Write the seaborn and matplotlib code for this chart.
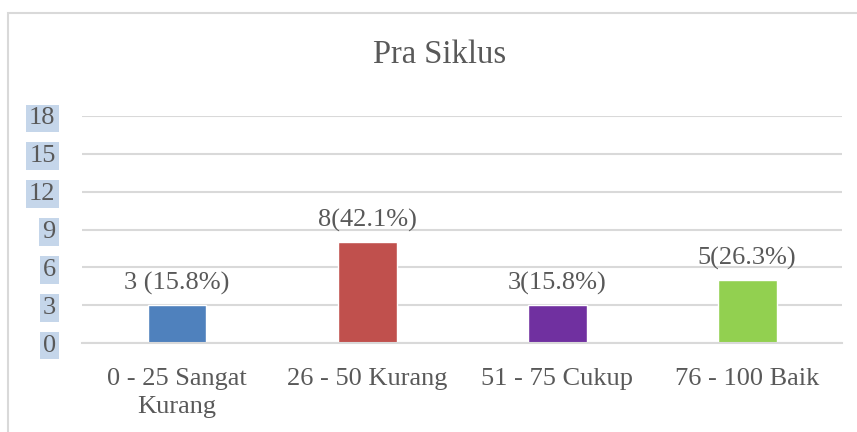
import pandas as pd
import matplotlib.pyplot as plt
import seaborn as sns
from matplotlib.patches import Rectangle

# Data
categories = ['0 - 25 Sangat\nKurang', '26 - 50 Kurang', '51 - 75 Cukup', '76 - 100 Baik']
counts = [3, 8, 3, 5]
bar_labels = ['3 (15.8%)', '8(42.1%)', '3(15.8%)', '5(26.3%)']
colors = ['#4F81BD', '#C0504D', '#7030A0', '#92D050']
yticks = [0, 3, 6, 9, 12, 15, 18]


def main():
    sns.set_style('white')
    plt.rcParams['font.family'] = ['Liberation Serif', 'DejaVu Serif']
    text_color = '#595959'

    df = pd.DataFrame({'kategori': categories, 'jumlah': counts})

    fig = plt.figure(figsize=(8.57, 4.32), dpi=100)
    ax = fig.add_axes([0.0957, 0.206, 0.887, 0.5255])

    sns.barplot(data=df, x='kategori', y='jumlah', hue='kategori',
                palette=colors, width=0.31, legend=False, ax=ax, saturation=1)

    ax.set_ylim(0, 18)
    ax.set_xlim(-0.5, 3.5)
    ax.set_yticks(yticks)
    ax.yaxis.grid(True, color='#d9d9d9', linewidth=1.5)
    ax.set_axisbelow(True)
    for side in ['top', 'right', 'left']:
        ax.spines[side].set_visible(False)
    ax.spines['bottom'].set_color('#d9d9d9')
    ax.spines['bottom'].set_linewidth(1.5)

    ax.tick_params(axis='both', length=0, labelsize=19, colors=text_color)
    ax.tick_params(axis='y', pad=19)
    ax.tick_params(axis='x', pad=18)
    for lbl in ax.get_yticklabels():
        lbl.set_bbox(dict(facecolor='#c5d6ea', edgecolor='none', pad=2))
    for lbl in ax.get_xticklabels():
        lbl.set_linespacing(1.35)
    ax.set_xlabel('')
    ax.set_ylabel('')

    for i, cont in enumerate(ax.containers):
        ax.bar_label(cont, labels=[bar_labels[i]], padding=7, fontsize=19, color=text_color)

    fig.text(440 / 857, 1 - 55 / 432, 'Pra Siklus', fontsize=23.5, color=text_color,
             ha='center', va='center')

    # outer chart frame
    fig.patches.append(Rectangle((8 / 857, -0.1), 1.2, (432 - 13) / 432 + 0.1,
                                 transform=fig.transFigure, fill=False,
                                 edgecolor='#d9d9d9', linewidth=1.5))

    fig.savefig('out.png', dpi=100)


if __name__ == '__main__':
    main()
